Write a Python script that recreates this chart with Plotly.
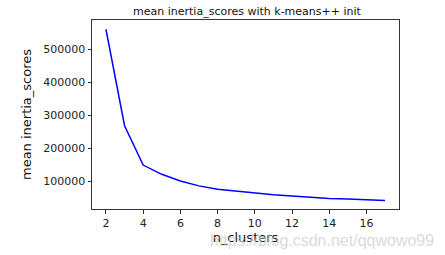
import plotly.graph_objects as go

n_clusters = [2, 3, 4, 5, 6, 7, 8, 9, 10, 11, 12, 13, 14, 15, 16, 17]
inertia = [560000, 268000, 149000, 121000, 101000, 86000, 76000, 70000,
           64000, 59000, 55000, 51000, 48000, 46000, 44000, 42000]

fig = go.Figure()
fig.add_trace(go.Scatter(x=n_clusters, y=inertia, mode="lines",
                         line=dict(color="#0000ff", width=1.5)))

axis_common = dict(showgrid=False, zeroline=False, showline=True, mirror=True,
                   linecolor="#333333", linewidth=1, ticks="outside", ticklen=3.5,
                   tickcolor="#333333", tickfont=dict(family="DejaVu Sans", size=11, color="#222"))

fig.update_layout(
    width=445, height=255,
    margin=dict(l=92, r=46, t=20, b=44),
    paper_bgcolor="white", plot_bgcolor="white",
    showlegend=False,
    title=dict(text="mean inertia_scores with k-means++ init", x=0.555, xanchor="center",
               y=0.955, yanchor="middle",
               font=dict(family="DejaVu Sans", size=11, color="#111")),
    xaxis=dict(range=[1.25, 17.75], tickvals=[2, 4, 6, 8, 10, 12, 14, 16],
               title=dict(text="n_clusters", standoff=4,
                          font=dict(family="DejaVu Sans", size=13, color="#111")),
               **axis_common),
    yaxis=dict(range=[16000, 588000], tickvals=[100000, 200000, 300000, 400000, 500000],
               tickformat="d",
               title=dict(text="mean inertia_scores", standoff=8,
                          font=dict(family="DejaVu Sans", size=13, color="#111")),
               **axis_common),
)

fig.add_annotation(text="https://blog.csdn.net/qqwowo99", xref="paper", yref="paper",
                   x=1.12, y=-0.165, xanchor="right", yanchor="middle", showarrow=False,
                   font=dict(family="Liberation Sans", size=16, color="rgba(205,205,205,0.75)"))

fig.write_html("out.html")
